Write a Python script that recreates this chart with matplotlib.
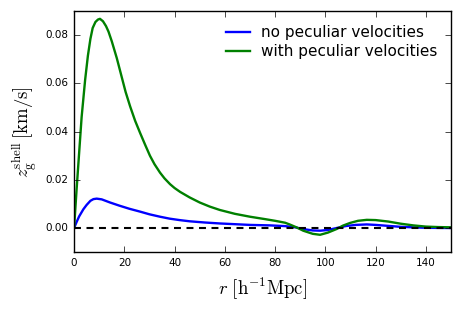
import matplotlib
matplotlib.use('Agg')
from matplotlib import pyplot as plt

# values
r_green = [0, 1, 2, 3, 4.4, 5.5, 6.5, 7.4, 8.5, 9.5, 10.3, 11.5, 12.7, 13.7, 15, 17,
           19, 20.5, 22.3, 24.3, 26.3, 28.3, 30.2, 32, 34.2, 36, 38.2, 40, 42.2, 46,
           50, 54, 58, 64, 70, 76, 80, 84, 86, 88.5, 91.2, 95, 97.9, 101, 104.5, 107,
           109.8, 113, 116.5, 120, 125, 130, 135, 140, 145, 150]
z_green = [0, 0.016, 0.031, 0.046, 0.0615, 0.0715, 0.0785, 0.0830, 0.0855, 0.0865,
           0.0868, 0.0858, 0.0838, 0.0815, 0.0775, 0.0705, 0.0625, 0.0565, 0.0505,
           0.0445, 0.0394, 0.0345, 0.0300, 0.0265, 0.0230, 0.0206, 0.0182, 0.0166,
           0.0150, 0.0127, 0.0106, 0.0089, 0.0075, 0.0059, 0.0047, 0.0037, 0.0030,
           0.0022, 0.0014, 0.0003, -0.0011, -0.0024, -0.0028, -0.0019, -0.0004,
           0.0010, 0.0021, 0.0030, 0.0034, 0.0033, 0.0027, 0.0018, 0.0011, 0.0006,
           0.0004, 0.0003]

r_blue = [0, 1, 2, 3.7, 5, 6.5, 7.7, 9, 11, 14.3, 18, 22, 26.3, 30, 34.2, 38, 42, 46,
          52, 58, 64, 70, 78, 84, 88, 91, 95, 98, 101, 104.5, 108, 112, 116.5, 120,
          125, 130, 140, 150]
z_blue = [0, 0.0025, 0.0048, 0.0078, 0.0096, 0.0113, 0.0120, 0.0122, 0.0119, 0.0106,
          0.0093, 0.0080, 0.0068, 0.0057, 0.0047, 0.0039, 0.0033, 0.0028, 0.0023,
          0.0019, 0.0016, 0.0013, 0.0011, 0.0008, 0.0003, -0.0004, -0.001, -0.0011,
          -0.0008, 0.0, 0.0008, 0.0013, 0.0015, 0.0013, 0.0009, 0.0005, 0.0001, 0.0]

plt.style.use('classic')
plt.rcParams['mathtext.fontset'] = 'cm'

fig = plt.figure(figsize=(4.63, 3.09), dpi=100, facecolor='white')
ax = fig.add_axes([0.16, 0.184, 0.814, 0.780])

ax.plot(r_blue, z_blue, color='#0000ff', lw=1.7, label='no peculiar velocities')
ax.plot(r_green, z_green, color='#008000', lw=1.7, label='with peculiar velocities')
ax.plot([0, 150], [0, 0], 'k--', lw=1.5, dashes=(5, 4))

ax.set_xlim(0, 150)
ax.set_ylim(-0.01, 0.09)
ax.set_yticks([0.0, 0.02, 0.04, 0.06, 0.08])
ax.set_yticklabels(['0.00', '0.02', '0.04', '0.06', '0.08'])
ax.tick_params(labelsize=7.5)

ax.set_xlabel(r'$r\ [\mathrm{h^{-1}Mpc}]$', fontsize=13.5)
ax.set_ylabel(r'$z_{\mathrm{g}}^{\mathrm{shell}}\,[\mathrm{km/s}]$', fontsize=13.5)

ax.legend(loc='upper right', frameon=False, fontsize=11, handlelength=2.2,
          handletextpad=0.4, borderaxespad=0.5, labelspacing=0.28)

fig.savefig('out.png', dpi=100, facecolor='white')
